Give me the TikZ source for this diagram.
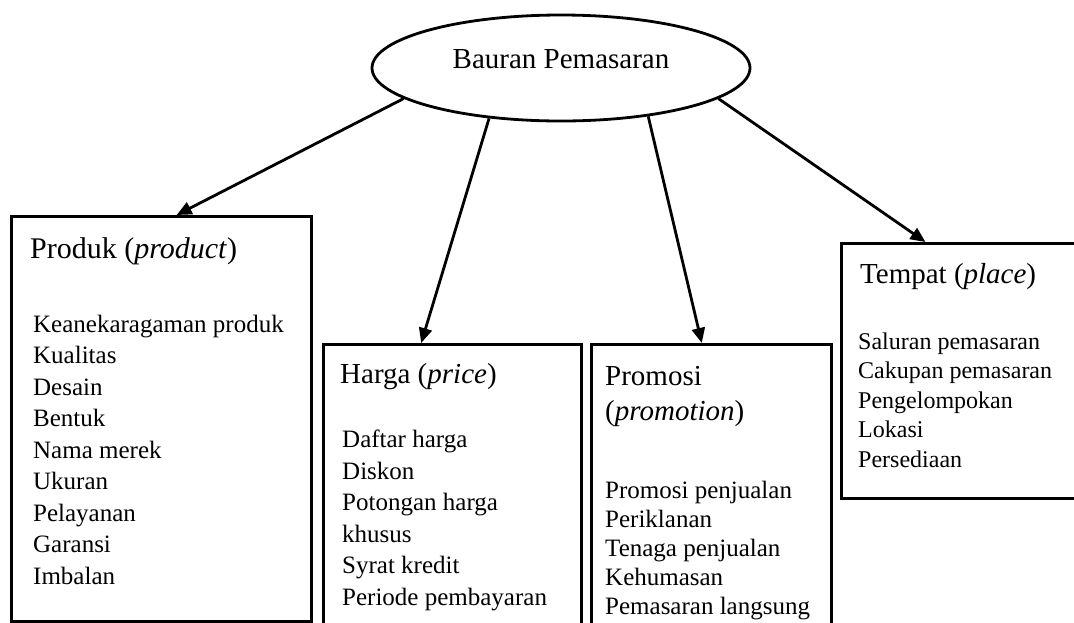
\documentclass[tikz,border=0pt]{standalone}
\usepackage{fontspec}
\setmainfont{Liberation Serif}
\usetikzlibrary{arrows.meta,calc,shapes.geometric}
\tikzset{
  box/.style={draw,line width=3pt,rectangle,inner sep=0pt,anchor=north west},
  oval/.style={draw,line width=2.8pt,ellipse,inner sep=0pt,minimum width=378pt,minimum height=106pt},
  ttl/.style={anchor=base west,inner sep=0pt,font=\fontsize{29}{35}\selectfont},
  lst/.style={anchor=base west,inner sep=0pt,align=left,font=\fontsize{25}{31.5}\selectfont},
  conn/.style={line width=2.8pt,-{Triangle[length=15pt,width=13pt]}}
}
\begin{document}
\begin{tikzpicture}[x=1pt,y=-1pt]
\useasboundingbox (0,0) rectangle (1074,622);
\clip (0,0) rectangle (1074,622);
\fill[white] (0,0) rectangle (1074,622);
% central ellipse
\node[oval] (bp) at (561,68) {};
\node[anchor=base,inner sep=0pt,font=\fontsize{29}{34}\selectfont] (bpt) at (561,68) {Bauran Pemasaran};
% boxes
\node[box,minimum width=300pt,minimum height=405pt] (prod) at (10,215) {};
\node[box,minimum width=258pt,minimum height=320pt] (harga) at (322,343) {};
\node[box,minimum width=240pt,minimum height=320pt] (promo) at (590,343) {};
\node[box,minimum width=260pt,minimum height=255pt] (tempat) at (840,242) {};
% titles
\node[ttl,font=\fontsize{30}{36}\selectfont] (prodt) at (30,258) {Produk (\textit{product})};
\node[ttl] (hargat) at (340,383) {Harga (\textit{price})};
\node[ttl] (promot) at (605,385) {Promosi};
\node[ttl] (promot2) at (605,420) {(\textit{promotion})};
\node[ttl] (tempatt) at (860,283) {Tempat (\textit{place})};
% lists (base anchor = baseline of the last line)
\node[lst] (prodl) at (33,584) {Keanekaragaman produk\\Kualitas\\Desain\\Bentuk\\Nama merek\\Ukuran\\Pelayanan\\Garansi\\Imbalan};
\node[lst] (hargal) at (342,605) {Daftar harga\\Diskon\\Potongan harga\\khusus\\Syrat kredit\\Periode pembayaran};
\node[lst,font=\fontsize{25}{29}\selectfont] (promol) at (605,614) {Promosi penjualan\\Periklanan\\Tenaga penjualan\\Kehumasan\\Pemasaran langsung};
\node[lst,font=\fontsize{24}{29.5}\selectfont] (tempatl) at (858,467) {Saluran pemasaran\\Cakupan pemasaran\\Pengelompokan\\Lokasi\\Persediaan};
% connectors
\draw[conn] (bp.191) -- ($(prod.north west)!0.55!(prod.north east)$);
\draw[conn] (bp.-145) -- ($(harga.north west)!0.38!(harga.north east)$);
\draw[conn] (bp.-29) -- ($(promo.north west)!0.46!(promo.north east)$);
\draw[conn] (bp.-11.6) -- ($(tempat.north west)!0.325!(tempat.north east)$);
\end{tikzpicture}
\end{document}
